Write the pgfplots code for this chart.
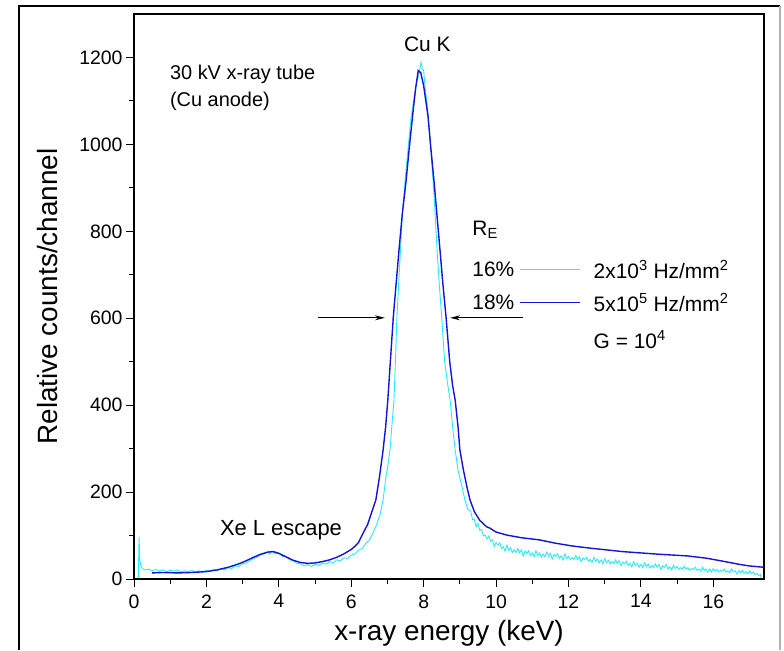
\documentclass[border=0pt]{standalone}
\usepackage{fontspec}
\setmainfont{Liberation Sans}
\usepackage{pgfplots}
\pgfplotsset{compat=1.18}
\usetikzlibrary{arrows.meta}
\definecolor{cyanline}{RGB}{40,235,245}
\definecolor{blueline}{RGB}{20,20,215}
\newcommand{\annfont}{\fontsize{21}{25}\selectfont}
\begin{document}
\begin{tikzpicture}
\path (0,0) rectangle (784bp,-650bp);
\draw[black, line width=1.2bp] (19bp,-650bp) -- (19bp,-6bp) -- (780bp,-6bp);
\draw[gray!60, line width=1.2bp] (780bp,-6bp) -- (780bp,-650bp);
\begin{axis}[
  at={(134bp,-579bp)}, anchor=south west,
  width=630bp, height=565bp, scale only axis,
  xmin=0, xmax=17.4, ymin=0, ymax=1300,
  xtick={0,2,...,16}, minor x tick num=1,
  ytick={0,200,...,1200}, minor y tick num=1,
  tick align=outside, tick pos=left,
  major tick length=8bp, minor tick length=5bp,
  every tick/.style={black, line width=1bp},
  axis line style={line width=1.2bp},
  /pgf/number format/assume math mode=true,
  /pgf/number format/1000 sep={},
  ticklabel style={font=\fontsize{19.5}{22}\selectfont},
  xticklabel style={yshift=-4bp},
  xlabel={x-ray energy (keV)},
  ylabel={Relative counts/channel},
  label style={font=\fontsize{28}{32}\selectfont},
  xlabel style={at={(axis description cs:0.5,-0.096)}, anchor=center},
  ylabel style={at={(axis description cs:-0.138,0.5)}, anchor=center},
  clip=true,
]
\addplot[cyanline, line width=0.9bp] coordinates {
(0.12,2) (0.14,97) (0.16,45) (0.19,30) (0.23,24) (0.3,21) (0.4,23) (0.5,19) (0.6,22) (0.7,18)
(0.8,21) (0.9,17) (1.0,20) (1.1,18) (1.2,21) (1.3,16) (1.4,19) (1.5,17) (1.6,20) (1.7,16)
(1.8,19) (1.9,17) (2.0,20) (2.1,18) (2.2,22) (2.3,19) (2.4,24) (2.5,21) (2.6,26) (2.7,24)
(2.8,30) (2.9,29) (3.0,35) (3.1,37) (3.2,42) (3.3,47) (3.4,50) (3.5,56) (3.6,58) (3.7,63)
(3.75,57) (3.8,64) (3.9,58) (4.0,60) (4.1,52) (4.2,51) (4.3,44) (4.4,42) (4.5,36) (4.6,35)
(4.7,30) (4.8,33) (4.9,29) (5.0,34) (5.1,31) (5.2,37) (5.3,34) (5.4,40) (5.5,37) (5.6,44)
(5.7,42) (5.8,49) (5.9,47) (6.0,55) (6.1,58) (6.2,66) (6.3,70) (6.4,82) (6.5,90) (6.6,106)
(6.7,125) (6.8,150) (6.88,182) (6.95,230) (7.01,260) (7.07,297) (7.12,350) (7.18,412) (7.22,500) (7.26,600)
(7.31,680) (7.36,758) (7.42,850) (7.5,930) (7.58,1000) (7.65,1060) (7.72,1100) (7.78,1130) (7.83,1150) (7.88,1165)
(7.93,1189) (7.96,1175) (8.0,1170) (8.04,1130) (8.1,1090) (8.16,1030) (8.22,960) (8.29,880) (8.37,758) (8.43,680)
(8.5,600) (8.58,500) (8.66,450) (8.73,412) (8.8,350) (8.87,297) (8.95,250) (9.05,215) (9.14,182) (9.22,160)
(9.30,156) (9.35,137) (9.40,137) (9.45,120) (9.50,128) (9.55,112) (9.60,114) (9.65,99) (9.70,101) (9.75,92)
(9.80,99) (9.85,87) (9.90,90) (9.95,75) (10.00,84) (10.05,78) (10.10,83) (10.15,70) (10.20,74) (10.25,64)
(10.30,78) (10.35,66) (10.40,72) (10.45,61) (10.50,67) (10.55,61) (10.60,70) (10.65,60) (10.70,67) (10.75,53)
(10.80,64) (10.85,59) (10.90,65) (10.95,54) (11.00,60) (11.05,51) (11.10,65) (11.15,54) (11.20,60) (11.25,50)
(11.30,57) (11.35,51) (11.40,62) (11.45,52) (11.50,59) (11.55,46) (11.60,56) (11.65,52) (11.70,58) (11.75,47)
(11.80,53) (11.85,44) (11.90,58) (11.95,47) (12.00,52) (12.05,44) (12.10,49) (12.15,45) (12.20,54) (12.25,45)
(12.30,51) (12.35,40) (12.40,48) (12.45,45) (12.50,50) (12.55,41) (12.60,45) (12.65,38) (12.70,50) (12.75,41)
(12.80,46) (12.85,37) (12.90,44) (12.95,35) (13.00,47) (13.05,38) (13.10,43) (13.15,35) (13.20,40) (13.25,36)
(13.30,44) (13.35,36) (13.40,42) (13.45,31) (13.50,39) (13.55,35) (13.60,41) (13.65,31) (13.70,36) (13.75,28)
(13.80,40) (13.85,31) (13.90,36) (13.95,27) (14.00,34) (14.05,26) (14.10,37) (14.15,29) (14.20,34) (14.25,25)
(14.30,31) (14.35,27) (14.40,35) (14.45,27) (14.50,33) (14.55,22) (14.60,30) (14.65,27) (14.70,33) (14.75,23)
(14.80,28) (14.85,21) (14.90,32) (14.95,24) (15.00,29) (15.05,22) (15.10,26) (15.15,23) (15.20,29) (15.25,22)
(15.30,26) (15.35,20) (15.40,24) (15.45,22) (15.50,27) (15.55,20) (15.60,23) (15.65,18) (15.70,27) (15.75,20)
(15.80,23) (15.85,16) (15.90,23) (15.95,16) (16.00,24) (16.05,18) (16.10,22) (16.15,16) (16.20,20) (16.25,18)
(16.30,23) (16.35,16) (16.40,19) (16.45,14) (16.50,23) (16.55,17) (16.60,19) (16.65,12) (16.70,19) (16.75,15)
(16.80,20) (16.85,13) (16.90,17) (16.95,12) (17.00,19) (17.05,13) (17.10,16) (17.15,10) (17.20,13) (17.25,8)
(17.30,10) (17.32,2)
};
\addplot[blueline, line width=1.4bp] coordinates {
(0.5,14) (0.8,15) (1.2,14) (1.6,15) (2.0,17) (2.3,21) (2.6,27) (2.9,35) (3.1,42) (3.3,50)
(3.5,57) (3.7,62) (3.85,63) (4.0,59) (4.2,51) (4.4,43) (4.6,38) (4.8,36) (5.0,37) (5.2,40)
(5.4,44) (5.6,50) (5.8,58) (5.9,63) (6.0,68) (6.1,75) (6.2,84) (6.33,106) (6.45,125) (6.55,150)
(6.68,182) (6.78,235) (6.88,297) (6.95,350) (7.01,412) (7.08,500) (7.16,601) (7.24,680) (7.32,758) (7.41,840)
(7.51,912) (7.6,990) (7.7,1070) (7.78,1130) (7.85,1170) (7.92,1165) (8.0,1135) (8.06,1100) (8.12,1065) (8.2,990)
(8.29,912) (8.37,835) (8.45,758) (8.53,680) (8.62,601) (8.72,500) (8.8,445) (8.87,412) (8.95,350) (9.0,297)
(9.1,250) (9.2,210) (9.28,182) (9.4,155) (9.55,135) (9.74,120) (9.83,117) (10.0,108) (10.3,101) (10.7,95)
(11.2,90) (11.6,83) (12.1,76) (12.6,71) (13.05,67) (13.5,63) (14.0,60) (14.5,57) (14.9,55) (15.3,53)
(15.8,48) (16.2,42) (16.7,34) (17.0,30) (17.4,27)
};
\node[font=\annfont] at (axis cs:8.1,1230) {Cu K};
\node[font=\fontsize{20}{24}\selectfont, anchor=west] at (axis cs:0.9,1161) {30 kV x-ray tube};
\node[font=\fontsize{20}{24}\selectfont, anchor=west] at (axis cs:0.9,1099) {(Cu anode)};
\node[font=\fontsize{22}{26}\selectfont] at (axis cs:4.06,113) {Xe L escape};
\node[font=\annfont, anchor=west] at (axis cs:9.25,804) {R\textsubscript{E}};
\node[font=\annfont, anchor=west] at (axis cs:9.25,712) {16\%};
\node[font=\annfont, anchor=west] at (axis cs:9.25,636) {18\%};
\node[font=\annfont, anchor=west] at (axis cs:12.6,712) {2x10\textsuperscript{3} Hz/mm\textsuperscript{2}};
\node[font=\annfont, anchor=west] at (axis cs:12.6,636) {5x10\textsuperscript{5} Hz/mm\textsuperscript{2}};
\node[font=\annfont, anchor=west] at (axis cs:12.6,551) {G = 10\textsuperscript{4}};
\draw[cyanline, line width=1.2bp] (axis cs:10.66,712) -- (axis cs:12.32,712);
\draw[blueline, line width=1.2bp] (axis cs:10.66,636) -- (axis cs:12.32,636);
\draw[black, line width=1bp, -{Stealth[length=10bp,width=5bp]}] (axis cs:5.08,601) -- (axis cs:6.93,601);
\draw[black, line width=1bp, -{Stealth[length=10bp,width=5bp]}] (axis cs:10.75,601) -- (axis cs:8.73,601);
\end{axis}
\end{tikzpicture}
\end{document}
